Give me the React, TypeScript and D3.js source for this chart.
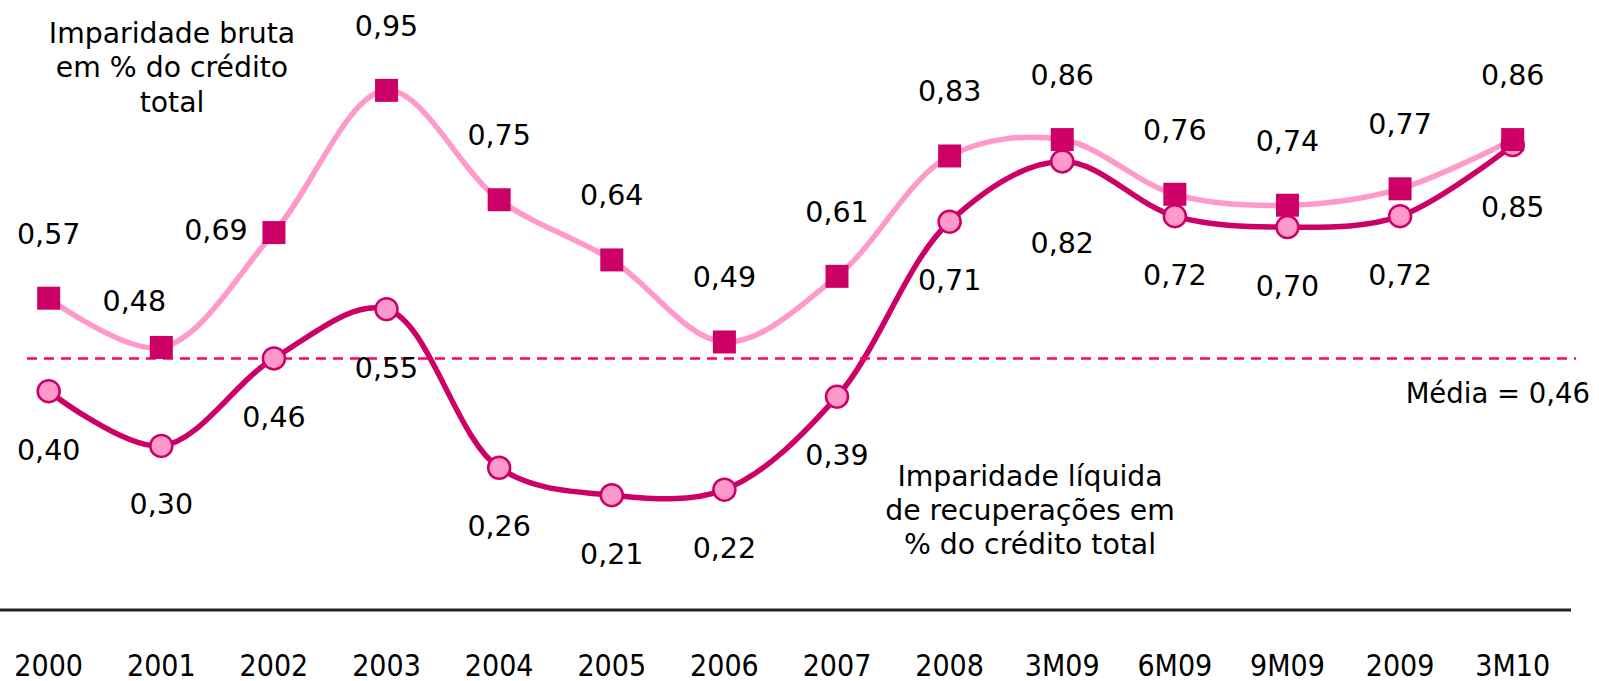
import * as React from 'react';
import * as d3 from 'd3';

const categories = ['2000', '2001', '2002', '2003', '2004', '2005', '2006', '2007', '2008', '3M09', '6M09', '9M09', '2009', '3M10'];
const bruta = [0.57, 0.48, 0.69, 0.95, 0.75, 0.64, 0.49, 0.61, 0.83, 0.86, 0.76, 0.74, 0.77, 0.86];
const liquida = [0.4, 0.3, 0.46, 0.55, 0.26, 0.21, 0.22, 0.39, 0.71, 0.82, 0.72, 0.7, 0.72, 0.85];
const media = 0.46;

const brutaTitle = ['Imparidade bruta', 'em % do crédito', 'total'];
const liquidaTitle = ['Imparidade líquida', 'de recuperações em', '% do crédito total'];

const W = 1599;
const H = 681;

const fmt = (v: number) => v.toFixed(2).replace('.', ',');

// label nudges for the few points that Excel didn't put straight above/below
const brutaNudge: { [i: number]: [number, number] } = { 1: [-27, -46], 2: [-58, -2] };
const liquidaNudge: { [i: number]: [number, number] } = { 9: [0, 82], 13: [0, 62] };

const font = "'DejaVu Sans', Verdana, sans-serif";

export default function App() {
  const x = d3.scalePoint<string>().domain(categories).range([48.7, 1512.7]);
  const y = d3.scaleLinear().domain([0, 1]).range([610, 63]);

  const line = d3
    .line<number>()
    .x((_, i) => x(categories[i]) as number)
    .y((d) => y(d))
    .curve(d3.curveCatmullRom.alpha(0.5));

  return (
    <svg
      width={W}
      height={H}
      style={{ position: 'absolute', left: 0, top: 0, display: 'block', background: '#fff' }}
    >
      {/* lines */}
      <path d={line(bruta) || ''} fill="none" stroke="#FF99CC" strokeWidth={5.5} />
      <path d={line(liquida) || ''} fill="none" stroke="#CC0066" strokeWidth={5.5} />

      {/* average */}
      <line
        x1={27}
        x2={1576}
        y1={y(media)}
        y2={y(media)}
        stroke="#FF0066"
        strokeWidth={2.5}
        strokeDasharray="10 7"
      />
      <text x={1590} y={393} textAnchor="end" dominantBaseline="central" fontFamily={font} fontSize={27.5} fill="#000">
        Média = {fmt(media)}
      </text>

      {/* markers */}
      {liquida.map((v, i) => (
        <circle
          key={'c' + i}
          cx={x(categories[i])}
          cy={y(v)}
          r={11}
          fill="#FF99CC"
          stroke="#CC0066"
          strokeWidth={2.5}
        />
      ))}
      {bruta.map((v, i) => (
        <rect
          key={'s' + i}
          x={(x(categories[i]) as number) - 11.5}
          y={y(v) - 11.5}
          width={23}
          height={23}
          fill="#CC0066"
        />
      ))}

      {/* data labels */}
      {bruta.map((v, i) => {
        const [dx, dy] = brutaNudge[i] || [0, -64];
        return (
          <text
            key={'lb' + i}
            x={(x(categories[i]) as number) + dx}
            y={y(v) + dy}
            textAnchor="middle"
            dominantBaseline="central"
            fontFamily={font}
            fontSize={28.5}
            fill="#000"
          >
            {fmt(v)}
          </text>
        );
      })}
      {liquida.map((v, i) => {
        const [dx, dy] = liquidaNudge[i] || [0, 59];
        return (
          <text
            key={'ll' + i}
            x={(x(categories[i]) as number) + dx}
            y={y(v) + dy}
            textAnchor="middle"
            dominantBaseline="central"
            fontFamily={font}
            fontSize={28.5}
            fill="#000"
          >
            {fmt(v)}
          </text>
        );
      })}

      {/* series captions */}
      {brutaTitle.map((t, i) => (
        <text key={'bt' + i} x={172} y={33 + i * 34.5} textAnchor="middle" dominantBaseline="central" fontFamily={font} fontSize={28.3} fill="#000">
          {t}
        </text>
      ))}
      {liquidaTitle.map((t, i) => (
        <text key={'lt' + i} x={1030} y={476 + i * 34} textAnchor="middle" dominantBaseline="central" fontFamily={font} fontSize={28.3} fill="#000">
          {t}
        </text>
      ))}

      {/* axis */}
      <line x1={0} x2={1571} y1={y(0)} y2={y(0)} stroke="#222" strokeWidth={3} />
      {categories.map((c) => (
        <text
          key={'t' + c}
          x={x(c)}
          y={665}
          textAnchor="middle"
          dominantBaseline="central"
          fontFamily="'DejaVu Sans Condensed', 'DejaVu Sans', sans-serif"
          style={{ fontStretch: 'condensed' }}
          fontSize={30}
          fill="#000"
        >
          {c}
        </text>
      ))}
    </svg>
  );
}
